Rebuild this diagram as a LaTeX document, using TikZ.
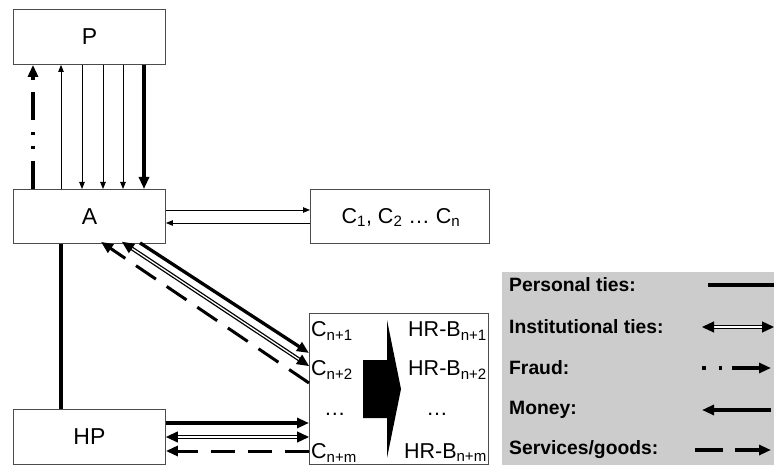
\documentclass[tikz,border=0pt]{standalone}
\usepackage{fontspec}
\setmainfont{Liberation Sans}
\usetikzlibrary{arrows.meta}
\begin{document}
\begin{tikzpicture}[x=1pt,y=-1pt,
  box/.style={draw=black!70, line width=0.9pt, fill=white, inner sep=0pt, anchor=north west},
  big/.style={font=\fontsize{23}{26}\selectfont},
  mid/.style={font=\fontsize{21.5}{24}\selectfont, inner sep=0pt},
  leg/.style={font=\fontsize{19.3}{22}\selectfont\bfseries, anchor=west, inner sep=0pt},
  thinarr/.style={line width=0.8pt, -{Triangle[length=7pt,width=5.5pt]}},
  personal/.style={line width=3.3pt},
  money/.style={line width=3.3pt, -{Triangle[length=12pt,width=10pt]}},
  inst/.style={line width=1.3pt, double=white, double distance=1.3pt,
    {Triangle[length=12pt,width=11pt]}-{Triangle[length=12pt,width=11pt]}},
  fraud/.style={line width=3.6pt, dash pattern=on 28pt off 12pt on 3pt off 11pt on 3pt off 12pt,
    -{Triangle[length=12pt,width=10pt]}},
  serv/.style={line width=3pt, dash pattern=on 24pt off 13pt, -{Triangle[length=12pt,width=10pt]}}
]
\useasboundingbox (0,0) rectangle (774,465);

% legend background
\fill[black!20] (502,272) rectangle (776,467);

% boxes
\node[box, minimum width=152pt, minimum height=55pt] (P) at (13,9) {};
\node[big] at (P.center) {P};
\node[box, minimum width=152pt, minimum height=54pt] (A) at (13,189) {};
\node[big] at (A.center) {A};
\node[box, minimum width=179pt, minimum height=54pt] (C) at (310,189) {};
\node[mid] at ([xshift=1pt,yshift=-1pt]C.center) {C\textsubscript{1}, C\textsubscript{2} … C\textsubscript{n}};
\node[box, minimum width=179pt, minimum height=151pt] (HR) at (309,313) {};
\node[box, minimum width=152pt, minimum height=55pt] (HP) at (13,409) {};
\node[big] at (HP.center) {HP};

% big arrow inside HR
\fill (363,360) -- (387,360) -- (387,320) -- (401,389) -- (387,458) -- (387,418) -- (363,418) -- cycle;

% HR texts
\node[mid, anchor=west] (c1) at (311,331) {C\textsubscript{n+1}};
\node[mid, anchor=west] (c2) at (311,370) {C\textsubscript{n+2}};
\node[mid, anchor=west] (c3) at (324,414) {…};
\node[mid, anchor=west] (c4) at (311,453) {C\textsubscript{n+m}};
\node[mid, anchor=east] (h1) at (487,331) {HR-B\textsubscript{n+1}};
\node[mid, anchor=east] (h2) at (487,370) {HR-B\textsubscript{n+2}};
\node[mid] (h3) at (437,414) {…};
\node[mid, anchor=east] (h4) at (487,453) {HR-B\textsubscript{n+m}};

% P - A arrows
\draw[fraud] ([xshift=20pt]A.north west) -- ([xshift=20pt]P.south west);
\draw[thinarr] ([xshift=48pt]A.north west) -- ([xshift=48pt]P.south west);
\draw[thinarr] ([xshift=69pt]P.south west) -- ([xshift=69pt]A.north west);
\draw[thinarr] ([xshift=90pt]P.south west) -- ([xshift=90pt]A.north west);
\draw[thinarr] ([xshift=110pt]P.south west) -- ([xshift=110pt]A.north west);
\draw[money] ([xshift=131pt]P.south west) -- ([xshift=131pt]A.north west);

% A - C
\draw[thinarr] ([yshift=-21pt]A.north east) -- ([yshift=-21pt]C.north west);
\draw[thinarr] ([yshift=-34pt]C.north west) -- ([yshift=-34pt]A.north east);

% A - HP personal
\draw[personal] ([xshift=48pt]A.south west) -- ([xshift=48pt]HP.north west);

% A - HR diagonals
\draw[money] ([xshift=127pt,yshift=1pt]A.south west) -- ([yshift=-40pt]HR.north west);
\draw[inst] ([xshift=109pt,yshift=2pt]A.south west) -- ([yshift=-53pt]HR.north west);
\draw[serv] ([yshift=-70pt]HR.north west) -- ([xshift=88pt,yshift=2pt]A.south west);

% HP - HR
\draw[money] ([yshift=-14pt]HP.north east) -- ([yshift=-14pt]HR.west |- HP.north east);
\draw[inst] ([yshift=-28pt]HP.north east) -- ([yshift=-28pt]HR.west |- HP.north east);
\draw[serv] ([yshift=-42pt]HR.west |- HP.north east) -- ([yshift=-42pt]HP.north east);

% legend
\node[leg] (l1) at (509,285) {Personal ties:};
\node[leg] (l2) at (509,327) {Institutional ties:};
\node[leg] (l3) at (509,368) {Fraud:};
\node[leg] (l4) at (509,410) {Money:};
\node[leg] (l5) at (509,450) {Services/goods:};
\coordinate (e1a) at (708,285); \coordinate (e1b) at (776,285);
\coordinate (e2a) at (702,327); \coordinate (e2b) at (774,327);
\coordinate (e3a) at (702,368); \coordinate (e3b) at (771,368);
\coordinate (e4a) at (771,410); \coordinate (e4b) at (702,410);
\coordinate (e5a) at (695,450); \coordinate (e5b) at (771,450);
\draw[personal] (e1a) -- (e1b);
\draw[inst] (e2a) -- (e2b);
\draw[line width=3.3pt, dash pattern=on 3.5pt off 13pt on 3.5pt off 10pt on 80pt, -{Triangle[length=12pt,width=10pt]}] (e3a) -- (e3b);
\draw[money] (e4a) -- (e4b);
\draw[line width=3.3pt, dash pattern=on 28pt off 12pt on 80pt, -{Triangle[length=12pt,width=10pt]}] (e5a) -- (e5b);
\end{tikzpicture}
\end{document}
